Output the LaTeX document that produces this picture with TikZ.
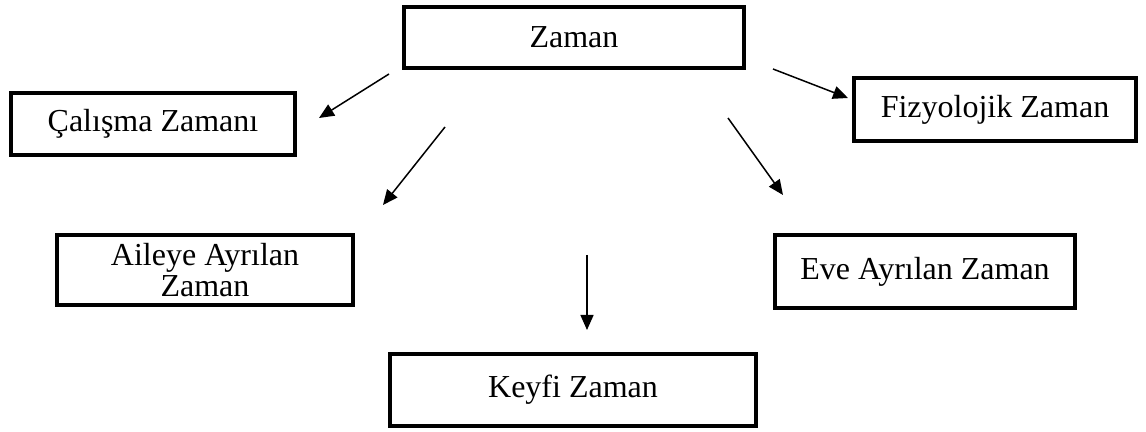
\documentclass[tikz,border=0pt]{standalone}
\usepackage{fontspec}
\setmainfont{Liberation Serif}
\usetikzlibrary{arrows.meta}
\tikzset{
  box/.style={draw, rectangle, line width=2pt, inner sep=0pt, align=center,
    font=\fontsize{16}{15.5}\selectfont},
  arr/.style={-{Triangle[length=7.5pt,width=6.5pt]}, line width=0.75pt}
}
\begin{document}
\begin{tikzpicture}[x=0.5pt,y=-0.5pt]
\useasboundingbox (0,0) rectangle (1146,432);
\node[box, minimum width=170pt, minimum height=30.5pt] (zaman) at (574,37.5) {Zaman};
\node[box, minimum width=142pt, minimum height=31pt] (calisma) at (153,124) {Çalışma Zamanı};
\node[box, minimum width=141pt, minimum height=31.5pt] (fizyo) at (995,109.5) {Fizyolojik Zaman};
\node[box, minimum width=148pt, minimum height=35pt] (aile) at (205,270) {Aileye Ayrılan\\Zaman};
\node[box, minimum width=150pt, minimum height=36.5pt] (eve) at (925,271.5) {Eve Ayrılan Zaman};
\node[box, minimum width=183pt, minimum height=36pt] (keyfi) at (573,390) {Keyfi Zaman};
\coordinate (a1s) at (389,74);  \coordinate (a1e) at (319,118);
\coordinate (a2s) at (445,127); \coordinate (a2e) at (383,205);
\coordinate (a3s) at (773,69);  \coordinate (a3e) at (848,98);
\coordinate (a4s) at (728,118); \coordinate (a4e) at (783,195);
\coordinate (a5s) at (587,255); \coordinate (a5e) at (587,330);
\draw[arr] (a1s) -- (a1e);
\draw[arr] (a2s) -- (a2e);
\draw[arr] (a3s) -- (a3e);
\draw[arr] (a4s) -- (a4e);
\draw[arr] (a5s) -- (a5e);
\end{tikzpicture}
\end{document}
